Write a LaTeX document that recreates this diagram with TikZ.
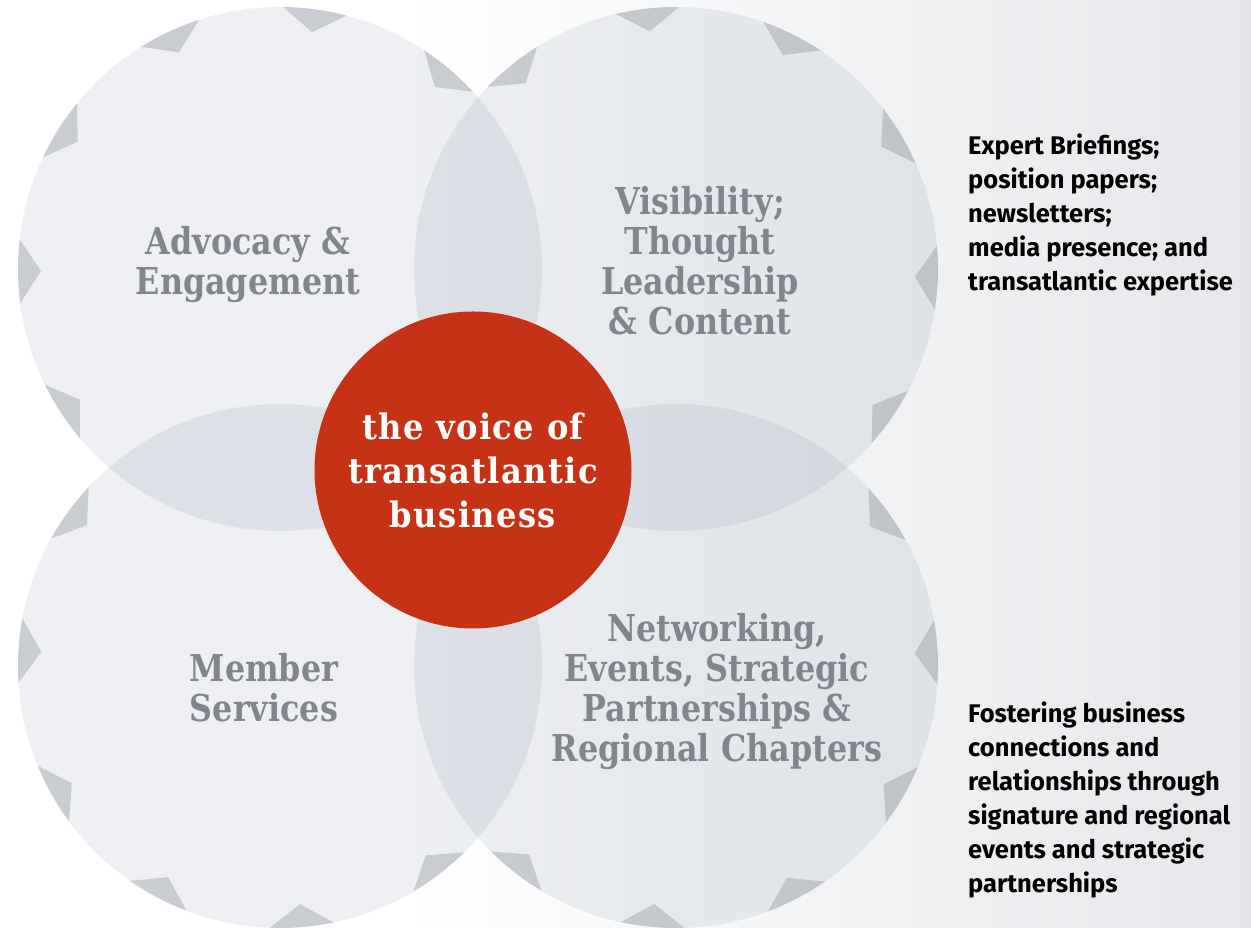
\documentclass[tikz,border=0pt]{standalone}
\usepackage{fontspec}
\setmainfont{DejaVu Serif}
\newfontfamily\areafont{DejaVu Serif}[FakeStretch=0.86]
\newfontfamily\voicefont{DejaVu Serif}[FakeStretch=0.92, LetterSpace=4]
\newfontfamily\sidefont{Fira Sans}
\definecolor{bgright}{RGB}{229,231,234}
\definecolor{circfill}{RGB}{113,130,155}
\definecolor{notchgray}{RGB}{120,125,132}
\definecolor{voicered}{RGB}{197,50,22}
\definecolor{labelgray}{RGB}{130,133,142}
\pgfdeclarehorizontalshading{bgshade}{100bp}{color(0bp)=(white); color(25bp)=(white); color(41bp)=(white); color(75bp)=(bgright); color(100bp)=(bgright)}
\tikzstyle{bigcircle} = [circle, minimum size=524pt, inner sep=0pt, fill=circfill, fill opacity=0.12]
\tikzstyle{notch} = [fill=notchgray, fill opacity=0.3]
\tikzstyle{voice} = [circle, minimum size=317pt, inner sep=0pt, fill=voicered, text=white, align=center, font=\voicefont\bfseries\fontsize{35}{44}\selectfont]
\tikzstyle{area} = [text=labelgray, align=center, inner sep=0pt, font=\areafont\bfseries\fontsize{37}{40}\selectfont]
\tikzstyle{side} = [anchor=north west, align=left, inner sep=0pt, font=\sidefont\bfseries\fontsize{25.5}{34}\selectfont]

\begin{document}
\begin{tikzpicture}[x=1pt, y=1pt]
\useasboundingbox (0,0) rectangle (1251,928);
\shade[shading=bgshade] (0,0) rectangle (1251,928);

\node(tl) [bigcircle] at (280,659) {};
\node(tr) [bigcircle] at (676,659) {};
\node(bl) [bigcircle] at (280,262) {};
\node(br) [bigcircle] at (676,262) {};

\foreach \a in {49.6,82.3,115,147.8,180.5,213.2}
  \fill[notch, shift={(tl.center)}] (\a+7:262pt) -- (\a:239pt) -- (\a-7:262pt) arc[start angle=\a-7, end angle=\a+7, radius=262pt];
\foreach \a in {30.8,63.5,96.3,129,325.3,358.1}
  \fill[notch, shift={(tr.center)}] (\a+7:262pt) -- (\a:239pt) -- (\a-7:262pt) arc[start angle=\a-7, end angle=\a+7, radius=262pt];
\foreach \a in {143.9,176.6,209.4,242.1,274.8,307.6}
  \fill[notch, shift={(bl.center)}] (\a+7:262pt) -- (\a:239pt) -- (\a-7:262pt) arc[start angle=\a-7, end angle=\a+7, radius=262pt];
\foreach \a in {3,35.7,232.1,264.8,297.6,330.3}
  \fill[notch, shift={(br.center)}] (\a+7:262pt) -- (\a:239pt) -- (\a-7:262pt) arc[start angle=\a-7, end angle=\a+7, radius=262pt];

\node(voice) [voice] at (473,458) {the voice of\\transatlantic\\business};

\node(advocacy) [area] at (248,663) {Advocacy \&\\Engagement};
\node(visibility) [area] at (700,667) {Visibility;\\Thought\\Leadership\\\& Content};
\node(member) [area] at (264,240) {Member\\Services};
\node(networking) [area] at (717,236) {Networking,\\Events, Strategic\\Partnerships \&\\Regional Chapters};

\node(briefings) [side] at (968,794) {Expert Briefings;\\position papers;\\newsletters;\\media presence; and\\transatlantic expertise};
\node(fostering) [side] at (968,226) {Fostering business\\connections and\\relationships through\\signature and regional\\events and strategic\\partnerships};
\end{tikzpicture}
\end{document}
